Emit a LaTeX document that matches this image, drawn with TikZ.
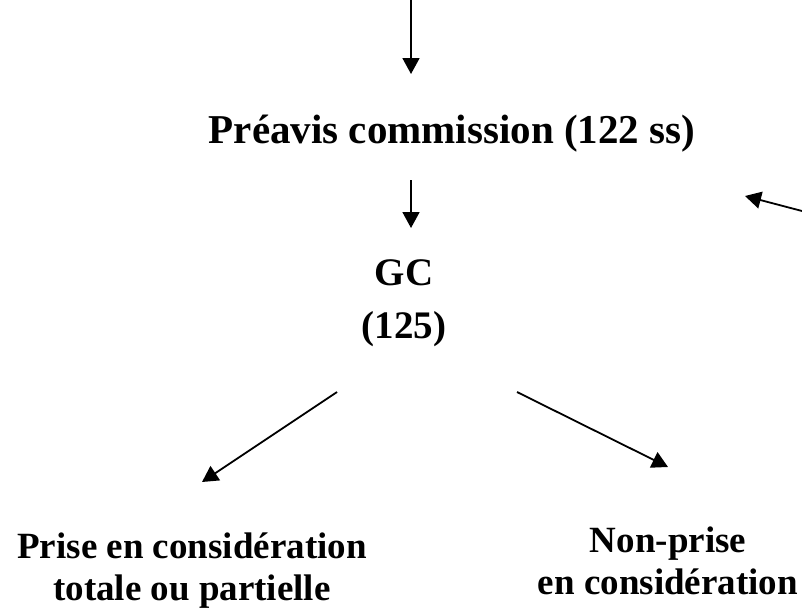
\documentclass[tikz,border=0pt]{standalone}
\usepackage{fontspec}
\setmainfont{Liberation Serif}
\usetikzlibrary{arrows.meta, calc}

\tikzset{
	flow/.style={line width=1.8pt, -{Triangle[length=16pt,width=17pt]}},
	txt/.style={font=\fontsize{37}{42}\selectfont\bfseries, inner sep=0pt, align=center}
}

\begin{document}
\begin{tikzpicture}[x=1pt, y=-1pt]
	\useasboundingbox (0, 0) rectangle (802, 608);
	\coordinate (in) at (411, 0);
	\coordinate (back) at (802, 211);
	\coordinate (backtip) at (745, 196);
	
	% base anchor = baseline of the last line
	\node[txt, anchor=base, font=\fontsize{41}{41}\selectfont\bfseries] (pre) at (452, 143) {Préavis commission (122 ss)};
	\node[txt, anchor=base, font=\fontsize{39}{53}\selectfont\bfseries] (gc) at (404, 338) {GC\\(125)};
	\node[txt, anchor=base] (oui) at (192, 600) {Prise en considération\\totale ou partielle};
	\node[txt, anchor=base] (non) at (668, 594) {Non-prise\\en considération};
	
	\draw[flow] (in) -- ($(in |- pre.base) + (0, -69)$);
	\draw[flow] ($(in |- pre.base) + (0, 37)$) -- ($(in |- gc.base) + (0, -110)$);
	\draw[flow] ($(gc.base) + (-67, 54)$) -- ($(oui.base) + (10, -118)$);
	\draw[flow] ($(gc.base) + (113, 54)$) -- ($(non.base) + (0, -127)$);
	\draw[flow] (back) -- (backtip);
\end{tikzpicture}
\end{document}
